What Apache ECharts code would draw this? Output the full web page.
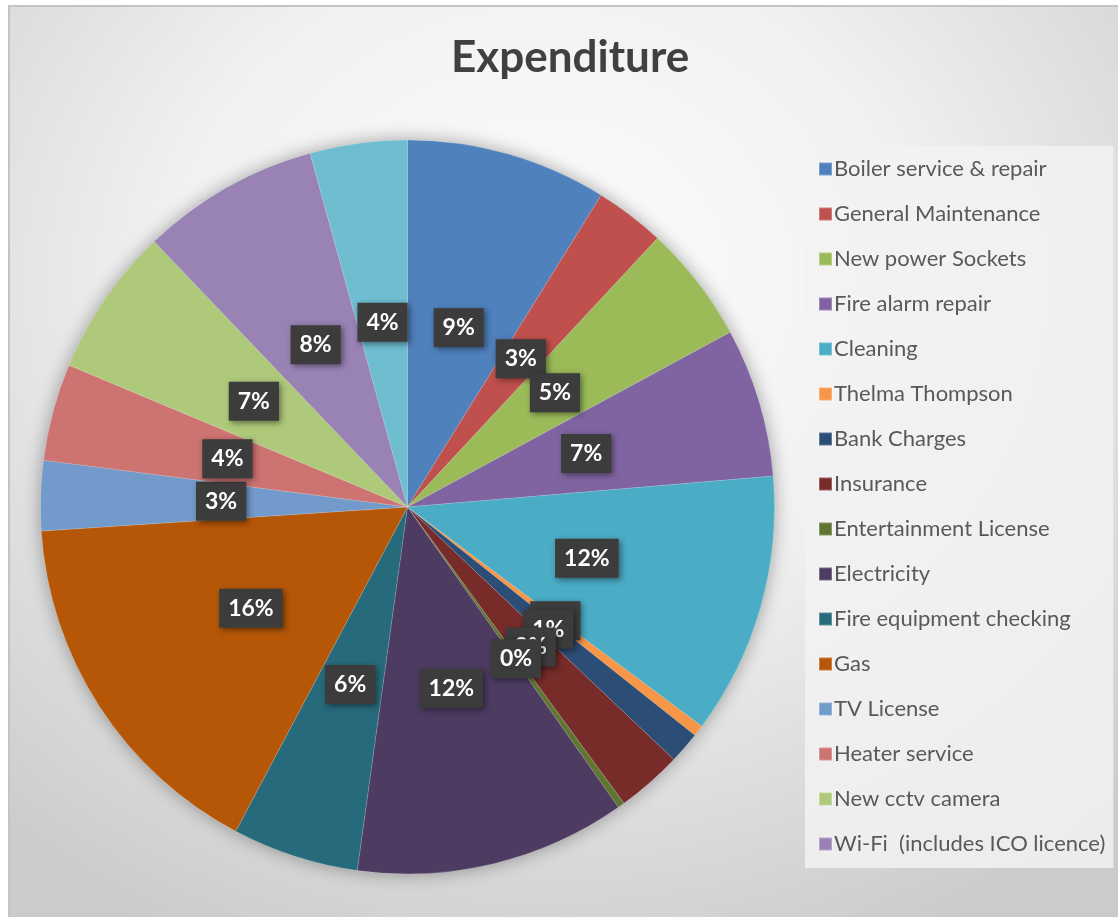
<!DOCTYPE html>
<html>
<head>
<meta charset="utf-8">
<title>Expenditure</title>
<script src="https://cdn.jsdelivr.net/npm/echarts@6/dist/echarts.min.js"></script>
<style>
  html, body { margin: 0; padding: 0; background: #ffffff; }
  #frame {
    position: absolute; left: 8px; top: 5px; width: 1110px; height: 912px;
    border-left: 2px solid #c4c4c4; border-top: 2px solid #c4c4c4;
    background: radial-gradient(ellipse 75% 80% at 48% 30%, #fdfdfd 0%, #f1f1f1 45%, #dcdcdc 75%, #cbcbcb 100%);
  }
  #myChart { width: 1110px; height: 912px; }
</style>
</head>
<body>
<div id="frame"><div id="myChart"></div></div>
<script>
// categories in legend order (the last slice is not listed in the legend)
var categories = [
  "Boiler service & repair", "General Maintenance", "New power Sockets",
  "Fire alarm repair", "Cleaning", "Thelma Thompson", "Bank Charges",
  "Insurance", "Entertainment License", "Electricity", "Fire equipment checking",
  "Gas", "TV License", "Heater service", "New cctv camera",
  "Wi-Fi  (includes ICO licence)", "Other"
];
// share of expenditure
var values = [8.9, 3.1, 5.2, 6.6, 11.6, 0.5, 1.4, 2.9, 0.3, 12.0, 5.6, 16.3, 3.1, 4.3, 6.6, 7.9, 4.3];
var colors = [
  "#4f81bd", "#c0504d", "#9bbb59", "#8064a2", "#4bacc6", "#f79646",
  "#2c4d75", "#772c2a", "#5f7530", "#4d3b62", "#276a7c", "#b65708",
  "#729aca", "#cd7371", "#afc97a", "#9983b5", "#6fbdd1"
];
var legendNames = categories.slice(0, 16);

var myChart = echarts.init(document.getElementById("myChart"));
myChart.setOption({
  color: colors,
  title: {
    text: "Expenditure",
    left: 436,
    top: 24,
    textStyle: { fontFamily: "Lato", fontSize: 44, fontWeight: "bold", color: "#404040" }
  },
  legend: {
    data: legendNames,
    orient: "vertical",
    left: 795,
    top: 139,
    padding: [11, 8, 12, 13],
    backgroundColor: "rgba(242,242,242,0.85)",
    itemWidth: 13,
    itemHeight: 13,
    itemGap: 21,
    icon: "rect",
    selectedMode: false,
    textStyle: { fontFamily: "Lato", fontSize: 22, color: "#595959", lineHeight: 24, padding: [0, 0, 0, -3] }
  },
  series: [
    {
      // soft shadow underneath the pie
      type: "pie",
      silent: true,
      z: 1,
      center: [397.5, 500],
      radius: 367,
      label: { show: false },
      itemStyle: { color: "#cccccc", shadowBlur: 18, shadowColor: "rgba(0,0,0,0.35)" },
      data: [1]
    },
    {
      name: "Expenditure",
      type: "pie",
      z: 2,
      center: [397.5, 500],
      radius: 367,
      startAngle: 90,
      clockwise: true,
      avoidLabelOverlap: false,
      minShowLabelAngle: 0,
      labelLayout: { hideOverlap: false },
      itemStyle: { borderColor: "rgba(255,255,255,0.25)", borderWidth: 0.6 },
      label: {
        show: true,
        position: "inside",
        formatter: function (p) { return Math.round(p.percent) + "%"; },
        fontFamily: "Lato",
        fontSize: 23,
        fontWeight: "bold",
        color: "#ffffff",
        backgroundColor: "#3c3c3c",
        padding: [9, 9, 7, 9],
        shadowBlur: 6,
        shadowOffsetX: 2,
        shadowOffsetY: 2,
        shadowColor: "rgba(0,0,0,0.45)"
      },
      labelLine: { show: false },
      emphasis: { disabled: true },
      data: categories.map(function (c, i) {
        return { name: c, value: values[i] };
      })
    }
  ]
});
</script>
</body>
</html>
